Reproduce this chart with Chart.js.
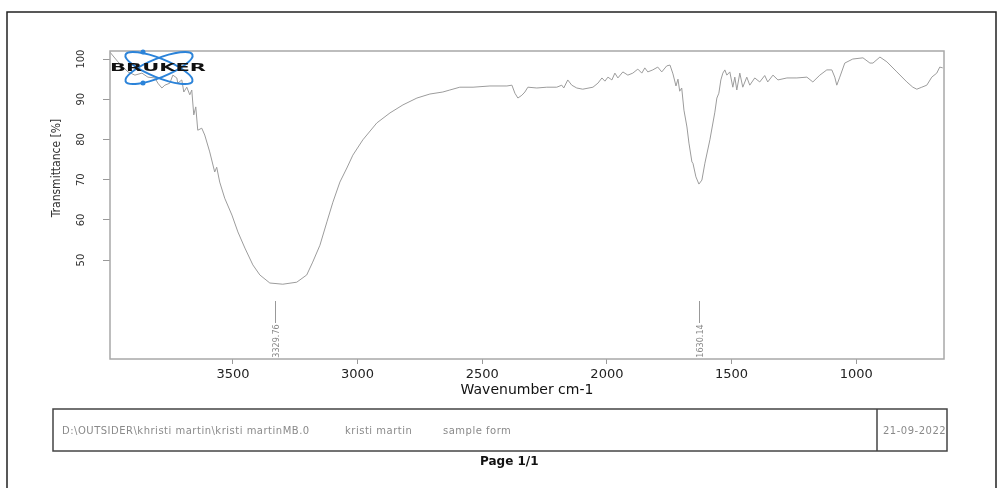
<!DOCTYPE html>
<html>
<head>
<meta charset="utf-8">
<script src="https://cdn.jsdelivr.net/npm/chart.js@4.4.0/dist/chart.umd.min.js"></script>
<style>
  body { margin: 0; background: #fff; }
  canvas { display: block; }
</style>
</head>
<body>
<canvas id="irChart" width="1003" height="488"></canvas>
<script>
// IRスペクトル　Bruker印刷から読み取った値

// 横軸 波数 [cm-1]
const wavenumber = [
  3993, 3961, 3921, 3893, 3865, 3841, 3813, 3801, 3785, 3773,
  3753, 3741, 3725, 3721, 3705, 3697, 3685, 3673, 3665, 3657,
  3649, 3641, 3625, 3613, 3593, 3573, 3565, 3553, 3533, 3504,
  3480, 3452, 3420, 3392, 3352, 3300, 3244, 3204, 3180, 3151,
  3123, 3099, 3071, 3043, 3019, 2979, 2923, 2870, 2818, 2762,
  2710, 2658, 2630, 2590, 2537, 2469, 2401, 2381, 2369, 2357,
  2341, 2329, 2317, 2281, 2241, 2201, 2181, 2173, 2157, 2141,
  2121, 2097, 2056, 2036, 2020, 2008, 1996, 1980, 1968, 1956,
  1936, 1916, 1896, 1876, 1860, 1848, 1836, 1816, 1796, 1780,
  1760, 1747, 1735, 1723, 1715, 1708, 1700, 1691, 1679, 1671,
  1659, 1655, 1643, 1631, 1619, 1607, 1587, 1567, 1559, 1551,
  1543, 1535, 1527, 1519, 1507, 1495, 1487, 1479, 1467, 1455,
  1439, 1427, 1407, 1387, 1367, 1355, 1334, 1314, 1278, 1238,
  1198, 1174, 1146, 1118, 1098, 1086, 1078, 1066, 1046, 1014,
  973, 945, 933, 905, 877, 837, 797, 773, 757, 737,
  717, 697, 677, 665, 653
];

// 縦軸 透過率 [%]
const transmittance = [
  101.7, 99.3, 96.8, 96.0, 96.5, 95.5, 95.3, 94.0, 92.8, 93.5,
  94.0, 96.0, 95.3, 94.0, 94.8, 91.8, 93.0, 91.1, 92.3, 86.1,
  88.1, 82.3, 82.8, 81.1, 76.9, 71.9, 73.1, 69.4, 65.4, 61.2,
  57.0, 53.0, 48.8, 46.3, 44.3, 44.0, 44.5, 46.3, 49.5, 53.7,
  59.5, 64.4, 69.4, 72.9, 76.1, 79.9, 84.1, 86.6, 88.6, 90.3,
  91.3, 91.8, 92.3, 93.0, 93.0, 93.3, 93.3, 93.5, 91.5, 90.3,
  91.0, 91.8, 93.0, 92.8, 93.0, 93.0, 93.5, 92.8, 94.8, 93.5,
  92.8, 92.5, 93.0, 94.0, 95.3, 94.5, 95.5, 94.8, 96.5, 95.3,
  96.8, 96.0, 96.5, 97.5, 96.5, 97.8, 96.8, 97.3, 98.0, 96.8,
  98.3, 98.5, 96.3, 93.3, 95.0, 92.0, 92.8, 87.3, 83.1, 79.1,
  74.4, 74.1, 70.7, 68.9, 69.9, 74.1, 79.9, 86.8, 90.3, 91.5,
  94.8, 96.5, 97.3, 96.0, 96.8, 93.0, 95.5, 92.3, 96.5, 93.0,
  95.5, 93.5, 95.3, 94.3, 95.9, 94.3, 96.0, 94.8, 95.3, 95.3,
  95.5, 94.3, 96.0, 97.3, 97.3, 95.5, 93.5, 95.5, 99.0, 100.0,
  100.3, 99.0, 99.0, 100.5, 99.3, 96.8, 94.3, 93.0, 92.5, 93.0,
  93.5, 95.5, 96.5, 98.0, 97.8
];

const xTicks = [1000, 1500, 2000, 2500, 3000, 3500];
const yTicks = [50, 60, 70, 80, 90, 100];
const peaks = [3329.76, 1630.14];
const peakLabels = ['3329.76', '1630.14'];
const footerTexts = ['D:\\OUTSIDER\\khristi martin\\kristi martinMB.0', 'kristi martin', 'sample form', '21-09-2022'];

// ページ枠・ロゴ・フッターなど
const pagePlugin = {
  id: 'page',
  afterDraw(chart) {
    const ctx = chart.ctx;
    const area = chart.chartArea;
    const xs = chart.scales.x;
    const ys = chart.scales.y;
    ctx.save();

    // 外枠
    ctx.strokeStyle = '#222';
    ctx.lineWidth = 1.5;
    ctx.beginPath();
    ctx.moveTo(7, 488);
    ctx.lineTo(7, 12);
    ctx.lineTo(996, 12);
    ctx.lineTo(996, 488);
    ctx.stroke();

    // グラフの枠
    ctx.strokeStyle = '#a8a8a8';
    ctx.lineWidth = 1.5;
    ctx.strokeRect(area.left, area.top, area.right - area.left, area.bottom - area.top);

    // 縦軸ラベル（回転）
    ctx.fillStyle = '#333';
    ctx.font = '11px "Liberation Sans Narrow", "DejaVu Sans Condensed"';
    ctx.textAlign = 'center';
    ctx.textBaseline = 'middle';
    for (let i = 0; i < yTicks.length; i++) {
      ctx.save();
      ctx.translate(81, ys.getPixelForValue(yTicks[i]));
      ctx.rotate(-Math.PI / 2);
      ctx.fillText(String(yTicks[i]), 0, 0);
      ctx.restore();
    }
    ctx.save();
    ctx.font = '12px "Liberation Sans Narrow", "DejaVu Sans Condensed"';
    ctx.translate(57, 168);
    ctx.rotate(-Math.PI / 2);
    ctx.fillText('Transmittance [%]', 0, 0);
    ctx.restore();

    // ピーク位置
    ctx.strokeStyle = '#999';
    ctx.lineWidth = 1;
    ctx.fillStyle = '#888';
    ctx.font = '9px "Liberation Sans Narrow", "DejaVu Sans Condensed"';
    for (let i = 0; i < peaks.length; i++) {
      const px = Math.round(xs.getPixelForValue(peaks[i])) + 0.5;
      ctx.beginPath();
      ctx.moveTo(px, 301);
      ctx.lineTo(px, 323);
      ctx.stroke();
      ctx.save();
      ctx.translate(px + 1.5, 341);
      ctx.rotate(-Math.PI / 2);
      ctx.fillText(peakLabels[i], 0, 0);
      ctx.restore();
    }

    // BRUKERロゴ
    ctx.strokeStyle = '#2b83d9';
    ctx.fillStyle = '#2b83d9';
    ctx.lineWidth = 2;
    [0.38, -0.38].forEach(r => {
      ctx.beginPath();
      ctx.ellipse(159, 68, 36, 9.5, r, 0, Math.PI * 2);
      ctx.stroke();
    });
    [[143, 52], [143, 83]].forEach(p => {
      ctx.beginPath();
      ctx.arc(p[0], p[1], 2.5, 0, Math.PI * 2);
      ctx.fill();
    });
    ctx.save();
    ctx.fillStyle = '#111';
    ctx.font = 'bold 10px "DejaVu Sans"';
    ctx.textAlign = 'left';
    ctx.translate(110, 68.5);
    ctx.scale(2.1, 1);
    ctx.fillText('BRUKER', 0, 0);
    ctx.restore();

    // フッター
    ctx.strokeStyle = '#444';
    ctx.lineWidth = 1.5;
    ctx.strokeRect(53, 409, 894, 42);
    ctx.beginPath();
    ctx.moveTo(877, 409);
    ctx.lineTo(877, 451);
    ctx.stroke();
    ctx.fillStyle = '#8a8a8a';
    ctx.font = '10px "DejaVu Sans"';
    ctx.letterSpacing = '0.5px';
    ctx.textAlign = 'left';
    const footerX = [62, 345, 443, 883];
    for (let i = 0; i < footerTexts.length; i++) {
      ctx.fillText(footerTexts[i], footerX[i], 431);
    }
    ctx.letterSpacing = '0px';
    ctx.fillStyle = '#111';
    ctx.font = 'bold 12px "DejaVu Sans"';
    ctx.fillText('Page 1/1', 480, 462);

    ctx.restore();
  }
};

function drawSpectrum() {
  const points = wavenumber.map((w, i) => ({ x: w, y: transmittance[i] }));

  let ctx = document.getElementById('irChart').getContext('2d');
  window.irChart = new Chart(ctx, {
    type: 'line',
    data: {
      datasets: [{
        data: points,
        borderColor: '#9c9c9c',
        borderWidth: 1,
        pointRadius: 0,
        tension: 0,
        fill: false
      }]
    },
    options: {
      responsive: false,
      animation: false,
      devicePixelRatio: 1,
      layout: { padding: { left: 50, right: 59, top: 51, bottom: 89 } },
      plugins: {
        legend: { display: false },
        tooltip: { enabled: false }
      },
      scales: {
        x: {
          type: 'linear',
          reverse: true,
          min: 648,
          max: 3993,
          afterBuildTicks: s => { s.ticks = xTicks.map(v => ({ value: v })); },
          afterFit: s => { s.height = 40; },
          grid: { display: true, drawOnChartArea: false, drawTicks: true, tickLength: 5, color: '#999' },
          border: { display: false },
          ticks: {
            autoSkip: false,
            maxRotation: 0,
            padding: 3,
            color: '#222',
            font: { family: 'DejaVu Sans', size: 13 },
            callback: v => String(v)
          },
          title: {
            display: true,
            text: 'Wavenumber cm-1',
            color: '#111',
            font: { family: 'DejaVu Sans', size: 14 },
            padding: { top: 0, bottom: 0 }
          }
        },
        y: {
          type: 'linear',
          min: 25.4,
          max: 102,
          afterBuildTicks: s => { s.ticks = yTicks.map(v => ({ value: v })); },
          afterFit: s => { s.width = 60; },
          grid: { display: true, drawOnChartArea: false, drawTicks: true, tickLength: 7, color: '#999' },
          border: { display: false },
          ticks: { display: false }
        }
      }
    },
    plugins: [pagePlugin]
  });
}

drawSpectrum();
</script>
</body>
</html>
